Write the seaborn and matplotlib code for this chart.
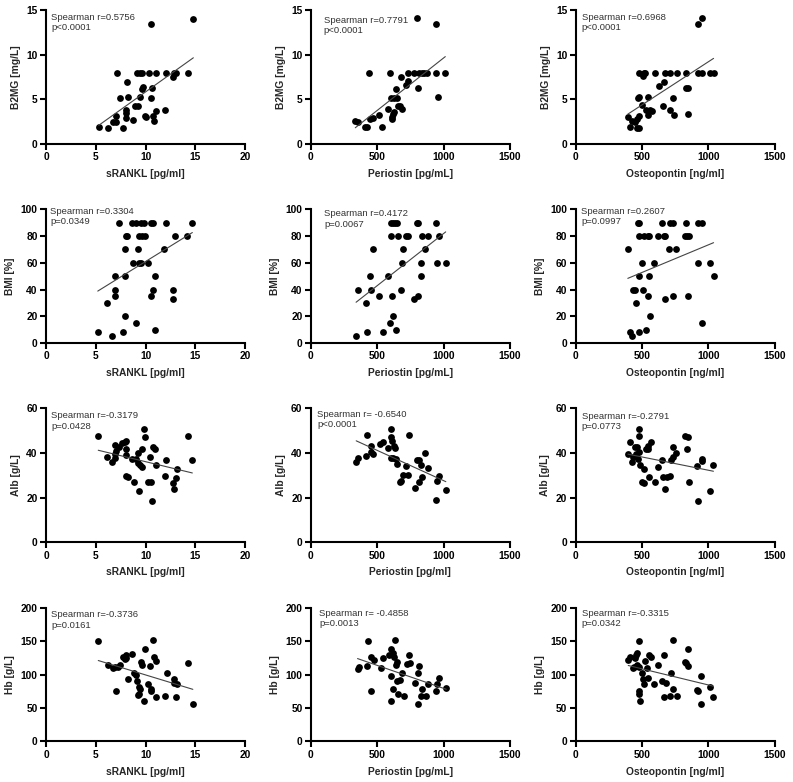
import matplotlib
matplotlib.use("Agg")
import matplotlib.pyplot as plt
import seaborn as sns

# ---- data ----
# row 1: B2MG [mg/L]
srankl_b2mg_x = [5.3, 6.2, 6.7, 7.0, 7.0, 7.1, 7.4, 7.7, 8.1, 8.0, 8.0, 8.0, 8.2, 8.7, 8.9, 9.2, 9.1, 9.4, 9.6, 9.4,
                 9.7, 9.6, 9.9, 10.0, 10.3, 10.5, 10.5, 10.6, 10.7, 10.8, 11.0, 11.0, 12.0, 12.1, 12.8, 12.9, 13.1, 14.3, 14.8]
srankl_b2mg_y = [1.9, 1.8, 2.5, 2.4, 3.1, 8.0, 5.1, 1.8, 6.9, 3.8, 3.5, 2.9, 5.2, 2.7, 4.3, 4.3, 8.0, 8.0, 8.0, 5.3,
                 6.4, 6.2, 3.1, 3.0, 8.0, 13.5, 5.1, 6.3, 3.1, 2.6, 8.0, 3.7, 3.8, 8.0, 7.5, 8.0, 8.0, 8.0, 14.0]

periostin_b2mg_x = [335, 354, 409, 424, 441, 449, 466, 517, 534, 579, 597, 604, 610, 614, 622, 627, 630, 642, 650,
                    655, 672, 677, 690, 717, 730, 735, 780, 797, 808, 818, 835, 855, 878, 943, 940, 958, 1013]
periostin_b2mg_y = [2.6, 2.5, 1.9, 1.9, 8.0, 2.8, 2.9, 3.2, 1.85, 3.9, 8.0, 5.1, 3.0, 2.8, 3.4, 3.6, 5.1, 6.2, 5.1,
                    4.3, 4.3, 7.5, 3.9, 6.6, 7.0, 8.0, 8.0, 14.1, 6.3, 8.0, 8.0, 8.0, 8.0, 8.0, 13.5, 5.2, 8.0]

osteopontin_b2mg_x = [393, 411, 428, 446, 461, 461, 474, 466, 479, 479, 481, 497, 512, 507, 524, 529, 542, 547, 557,
                      572, 597, 625, 663, 655, 675, 708, 713, 731, 739, 764, 829, 832, 847, 850, 920, 953, 920, 955,
                      1011, 1039]
osteopontin_b2mg_y = [3.0, 1.85, 2.6, 2.5, 2.75, 1.8, 1.8, 5.1, 5.3, 8.0, 3.1, 4.4, 8.0, 7.6, 8.0, 3.8, 3.2, 5.2, 3.8,
                      3.7, 8.0, 6.5, 6.9, 4.3, 8.0, 3.85, 8.0, 5.1, 3.2, 8.0, 8.0, 6.3, 6.3, 3.3, 13.5, 14.1, 8.0, 8.0,
                      8.0, 8.0]

# row 2: BMI [%]
srankl_bmi_x = [5.2, 6.1, 6.6, 6.9, 6.9, 6.9, 7.3, 7.7, 7.9, 7.9, 7.9, 8.05, 8.15, 8.6, 8.7, 9.0, 9.2, 9.0, 9.3, 9.3,
                9.5, 9.5, 9.6, 9.8, 9.9, 10.2, 10.5, 10.5, 10.7, 10.7, 10.9, 10.9, 12.1, 11.9, 12.8, 12.8, 13.0, 14.2, 14.7]
srankl_bmi_y = [8, 30, 5, 50, 40, 35, 90, 8, 70, 50, 20, 80, 80, 90, 60, 90, 70, 15, 80, 60,
                90, 60, 80, 90, 80, 60, 35, 90, 90, 40, 50, 10, 90, 70, 40, 33, 80, 80, 90]

periostin_bmi_x = [341, 354, 414, 426, 444, 454, 472, 517, 540, 579, 599, 604, 604, 614, 622, 622, 635, 640, 650,
                   655, 677, 685, 692, 717, 735, 780, 797, 810, 810, 830, 830, 835, 858, 883, 940, 948, 966, 1016]
periostin_bmi_y = [5, 40, 30, 8, 50, 40, 70, 35, 8, 50, 15, 80, 90, 35, 90, 20, 90, 10, 90,
                   80, 40, 60, 70, 80, 80, 33, 90, 35, 90, 50, 60, 80, 70, 80, 90, 60, 80, 60]

osteopontin_bmi_x = [393, 406, 421, 431, 444, 454, 466, 481, 474, 474, 474, 499, 507, 517, 529, 542, 542, 549, 555,
                     562, 592, 623, 650, 663, 676, 670, 706, 713, 731, 731, 759, 832, 827, 839, 852, 845, 920, 953,
                     920, 953, 1011, 1039]
osteopontin_bmi_y = [70, 8, 5, 40, 40, 30, 90, 90, 50, 80, 8, 60, 40, 80, 10, 80, 35, 50, 80,
                     20, 60, 80, 90, 80, 80, 33, 70, 90, 90, 35, 70, 90, 80, 80, 80, 35, 90, 90,
                     60, 15, 60, 50]

# row 3: Alb [g/L]
srankl_alb_x = [5.25, 6.1, 6.65, 6.9, 6.95, 7.0, 6.95, 7.35, 7.65, 7.9, 8.0, 8.05, 8.0, 8.05, 8.2, 8.6, 8.8, 9.05,
                9.2, 9.3, 9.2, 9.4, 9.6, 9.6, 9.8, 9.9, 10.2, 10.45, 10.5, 10.6, 10.75, 10.95, 11.0, 11.95, 12.1,
                12.8, 12.9, 13.1, 13.15, 14.3, 14.7]
srankl_alb_y = [47.8, 38.4, 35.8, 43.7, 39.6, 40.7, 37.6, 42.8, 44.6, 45.1, 41.8, 45.2, 39.3, 29.7, 29.4, 37.3, 26.9,
                37.3, 35.4, 23.1, 39.9, 34.6, 41.8, 33.9, 50.6, 47.0, 27.2, 38.1, 26.9, 18.7, 42.8, 41.6, 34.6, 29.7,
                36.7, 26.6, 23.7, 28.8, 32.8, 47.8, 36.7]

periostin_alb_x = [342, 355, 412, 425, 450, 457, 470, 520, 545, 582, 602, 602, 607, 615, 622, 630, 637, 645, 650,
                   675, 692, 682, 720, 732, 737, 782, 800, 812, 817, 830, 837, 860, 882, 942, 950, 962, 1017]
periostin_alb_y = [36.1, 37.9, 38.6, 47.9, 40.4, 43.3, 39.8, 44.2, 45.1, 42.1, 51.0, 37.6, 47.2, 45.4, 37.6, 43.1,
                   42.4, 37.4, 35.3, 27.1, 30.1, 27.4, 34.1, 30.1, 47.9, 24.1, 37.1, 27.1, 37.1, 34.6, 29.2, 40.0,
                   33.1, 18.9, 27.4, 29.6, 23.4]

osteopontin_alb_x = [394, 410, 422, 435, 445, 452, 465, 470, 477, 480, 477, 482, 515, 502, 515, 528, 545, 548, 565,
                     553, 595, 620, 653, 661, 671, 686, 711, 716, 731, 736, 759, 827, 837, 844, 852, 917, 922, 950,
                     953, 1013, 1038]
osteopontin_alb_y = [39.6, 44.8, 35.8, 38.1, 42.8, 39.6, 42.8, 37.3, 40.3, 50.6, 47.6, 34.6, 32.8, 26.9, 26.6, 41.8,
                     41.8, 43.3, 45.1, 29.4, 27.2, 33.7, 37.0, 29.4, 23.9, 29.4, 29.9, 37.0, 38.4, 42.8, 39.9, 47.8,
                     41.8, 47.0, 26.9, 34.2, 18.7, 37.3, 36.6, 23.0, 34.6]

# row 4: Hb [g/L]
srankl_hb_x = [5.25, 6.2, 6.7, 6.95, 7.0, 7.2, 7.4, 7.7, 7.9, 8.0, 8.05, 8.2, 8.6, 8.8, 9.0, 9.1, 9.3, 9.2, 9.4, 9.3,
               9.55, 9.6, 9.85, 9.9, 10.25, 10.45, 10.5, 10.5, 10.75, 10.8, 11.0, 11.05, 12.0, 12.15, 12.85, 12.9,
               13.1, 13.2, 14.3, 14.75]
srankl_hb_y = [150.5, 113.5, 109, 111.5, 75, 111.5, 113.5, 125.5, 122.5, 129, 124, 94, 130.5, 101.5, 99, 90, 81.5,
               69, 79, 70.5, 119, 114, 60.5, 137.5, 86.5, 112.5, 79, 75.5, 151.5, 126.5, 66.5, 120.5, 67.5, 101.5,
               94, 88, 66.5, 86.5, 116.5, 55.5]

periostin_hb_x = [352, 365, 420, 432, 450, 457, 475, 525, 545, 592, 602, 607, 607, 620, 620, 630, 632, 640, 647,
                  650, 657, 675, 690, 700, 727, 740, 745, 787, 807, 812, 807, 832, 840, 865, 882, 942, 950, 962, 1020]
periostin_hb_y = [108.5, 110.5, 113, 150.5, 75.5, 126.5, 121.5, 109, 125, 129, 97.5, 137.5, 60.5, 79, 131.5, 126.5,
                  151.5, 113.5, 119, 90.5, 70.5, 92.5, 101.5, 67.5, 115.5, 129, 116.5, 87.5, 101.5, 112.5, 55.5,
                  67.5, 79, 68.5, 86.5, 75, 86.5, 95, 80.5]

osteopontin_hb_x = [396, 409, 430, 439, 446, 454, 459, 464, 474, 477, 479, 479, 484, 499, 509, 517, 524, 539, 547,
                    552, 564, 594, 624, 652, 667, 667, 677, 710, 715, 730, 735, 760, 825, 833, 848, 845, 915, 920,
                    948, 945, 1011, 1036]
osteopontin_hb_y = [121.5, 125.5, 109, 111.5, 124, 129, 114, 131.5, 111.5, 150.5, 75, 70.5, 60.5, 101.5, 94, 86.5,
                    120.5, 109, 95, 129, 126.5, 86.5, 114, 90.5, 129, 66.5, 87.5, 67.5, 101.5, 79, 151.5, 68.5, 119,
                    116.5, 137.5, 112.5, 77.5, 75, 97.5, 55.5, 81, 66.5]

# labels / annotations
y_labels = ['B2MG [mg/L]', 'BMI [%]', 'Alb [g/L]', 'Hb [g/L]']
y_ticks = [[0, 5, 10, 15], [0, 20, 40, 60, 80, 100], [0, 20, 40, 60], [0, 50, 100, 150, 200]]
x_ticks = [[0, 5, 10, 15, 20], [0, 500, 1000, 1500], [0, 500, 1000, 1500]]
x_labels = [
    ['sRANKL [pg/ml]', 'Periostin [pg/mL]', 'Osteopontin [ng/ml]'],
    ['sRANKL [pg/ml]', 'Periostin [pg/mL]', 'Osteopontin [ng/ml]'],
    ['sRANKL [pg/ml]', 'Periostin [pg/ml]', 'Osteopontin [ng/ml]'],
    ['sRANKL [pg/ml]', 'Periostin [pg/mL]', 'Osteopontin [ng/ml]'],
]
stats_text = [
    ['Spearman r=0.5756\np<0.0001', 'Spearman r=0.7791\np<0.0001', 'Spearman r=0.6968\np<0.0001'],
    ['Spearman r=0.3304\np=0.0349', 'Spearman r=0.4172\np=0.0067', 'Spearman r=0.2607\np=0.0997'],
    ['Spearman r=-0.3179\np=0.0428', 'Spearman r= -0.6540\np<0.0001', 'Spearman r=-0.2791\np=0.0773'],
    ['Spearman r=-0.3736\np=0.0161', 'Spearman r= -0.4858\np=0.0013', 'Spearman r=-0.3315\np=0.0342'],
]

dados = [
    [(srankl_b2mg_x, srankl_b2mg_y), (periostin_b2mg_x, periostin_b2mg_y), (osteopontin_b2mg_x, osteopontin_b2mg_y)],
    [(srankl_bmi_x, srankl_bmi_y), (periostin_bmi_x, periostin_bmi_y), (osteopontin_bmi_x, osteopontin_bmi_y)],
    [(srankl_alb_x, srankl_alb_y), (periostin_alb_x, periostin_alb_y), (osteopontin_alb_x, osteopontin_alb_y)],
    [(srankl_hb_x, srankl_hb_y), (periostin_hb_x, periostin_hb_y), (osteopontin_hb_x, osteopontin_hb_y)],
]

# text placement (axes fraction), per panel
pos_texto = [
    [(0.025, 0.98), (0.064, 0.96), (0.03, 0.98)],
    [(0.022, 1.02), (0.067, 1.0), (0.027, 1.02)],
    [(0.025, 0.98), (0.033, 0.99), (0.03, 0.975)],
    [(0.025, 0.98), (0.043, 0.99), (0.03, 0.99)],
]

# ---- style ----
sns.set_theme(style="ticks")
plt.rcParams['font.family'] = ['Liberation Sans', 'DejaVu Sans']
plt.rcParams['axes.linewidth'] = 1.5

fig, axes = plt.subplots(4, 3, figsize=(7.93, 7.82), dpi=100)
fig.subplots_adjust(left=0.058, right=0.977, top=0.987, bottom=0.052, wspace=0.33, hspace=0.49)

for i in range(4):
    for j in range(3):
        ax = axes[i][j]
        x, y = dados[i][j]
        sns.regplot(x=x, y=y, ax=ax, ci=None, truncate=True,
                    scatter_kws={'s': 24, 'color': 'black', 'linewidths': 0, 'alpha': 1},
                    line_kws={'color': '#444444', 'linewidth': 0.8})
        ax.set_xlim(x_ticks[j][0], x_ticks[j][-1])
        ax.set_ylim(y_ticks[i][0], y_ticks[i][-1])
        ax.set_xticks(x_ticks[j])
        ax.set_yticks(y_ticks[i])
        ax.tick_params(axis='both', length=4, width=1.5, labelsize=7.4, pad=2, colors='black')
        for lbl in ax.get_xticklabels() + ax.get_yticklabels():
            lbl.set_fontweight('bold')
        ax.set_xlabel(x_labels[i][j], fontsize=7.4, fontweight='bold', labelpad=5)
        ax.set_ylabel(y_labels[i], fontsize=7.4, fontweight='bold', labelpad=4)
        sns.despine(ax=ax)
        for lado in ['left', 'bottom']:
            ax.spines[lado].set_color('black')
            ax.spines[lado].set_clip_on(False)
        tx, ty = pos_texto[i][j]
        ax.text(tx, ty, stats_text[i][j], transform=ax.transAxes, ha='left', va='top',
                fontsize=6.8, color='#333333', linespacing=1.2)

plt.savefig('out.png', dpi=100)
plt.close()
